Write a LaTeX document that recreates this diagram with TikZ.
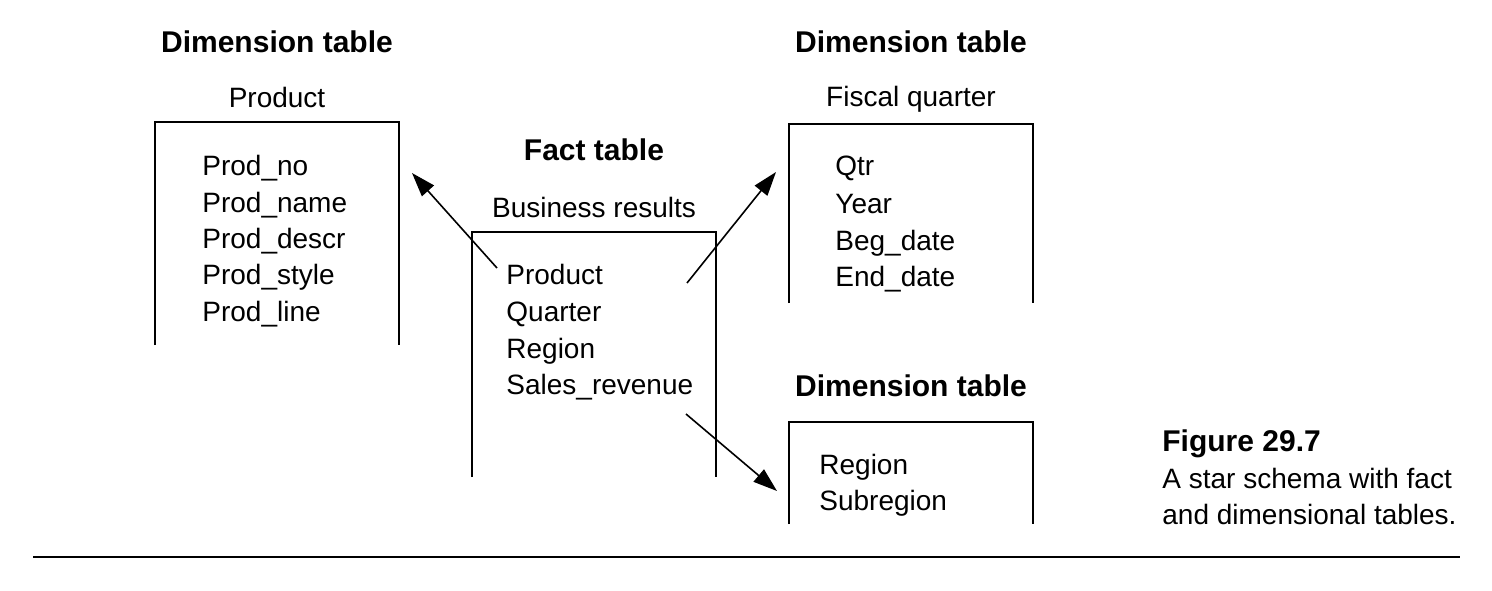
\documentclass[tikz,border=0pt]{standalone}
\usepackage{fontspec}
\setmainfont{Liberation Sans}
\usetikzlibrary{arrows.meta}
\tikzset{
  ttl/.style={font=\fontsize{15}{18}\selectfont\bfseries, anchor=center, inner sep=0pt},
  tname/.style={font=\fontsize{14}{17}\selectfont, anchor=center, inner sep=0pt},
  item/.style={font=\fontsize{14}{17}\selectfont, anchor=base west, inner sep=0pt},
  tbl/.style={line width=0.8pt},
  conn/.style={line width=0.8pt, -{Triangle[length=12pt,width=8pt]}},
}
\begin{document}
\begin{tikzpicture}[x=0.5pt,y=-0.5pt]
\useasboundingbox (0,0) rectangle (1492,590);
% Product dimension table
\node[ttl] (t1) at (277,42) {Dimension table};
\node[tname] (n1) at (277,97) {Product};
\draw[tbl] (155,345) -- (155,122) -- (399,122) -- (399,345);
\node[item] (p1) at (202,175) {Prod\_no};
\node[item] (p2) at (202,212) {Prod\_name};
\node[item] (p3) at (202,248) {Prod\_descr};
\node[item] (p4) at (202,284) {Prod\_style};
\node[item] (p5) at (202,321) {Prod\_line};
% Fact table
\node[ttl] (t2) at (594,150) {Fact table};
\node[tname] (n2) at (594,207) {Business results};
\draw[tbl] (472,477) -- (472,232) -- (716,232) -- (716,477);
\node[item] (f1) at (506,284) {Product};
\node[item] (f2) at (506,321) {Quarter};
\node[item] (f3) at (506,358) {Region};
\node[item] (f4) at (506,394) {Sales\_revenue};
% Fiscal quarter
\node[ttl] (t3) at (911,42) {Dimension table};
\node[tname] (n3) at (911,99) {Fiscal quarter};
\draw[tbl] (789,303) -- (789,124) -- (1033,124) -- (1033,303);
\node[item] (q1) at (835,175) {Qtr};
\node[item] (q2) at (835,213) {Year};
\node[item] (q3) at (835,250) {Beg\_date};
\node[item] (q4) at (835,286) {End\_date};
% Region
\node[ttl] (t4) at (911,386) {Dimension table};
\draw[tbl] (789,524) -- (789,422) -- (1033,422) -- (1033,524);
\node[item] (r1) at (819,474) {Region};
\node[item] (r2) at (819,510) {Subregion};
% Arrows
\coordinate (a1s) at (497,268);
\coordinate (a1e) at (412,173);
\coordinate (a2s) at (687,283);
\coordinate (a2e) at (776,172);
\coordinate (a3s) at (686,414);
\coordinate (a3e) at (777,491);
\draw[conn] (a1s) -- (a1e);
\draw[conn] (a2s) -- (a2e);
\draw[conn] (a3s) -- (a3e);
% Caption
\node[font=\fontsize{15}{18}\selectfont\bfseries, anchor=base west, inner sep=0pt] (cap1) at (1162,451) {Figure 29.7};
\node[item] (cap2) at (1162,488) {A star schema with fact};
\node[item] (cap3) at (1162,524) {and dimensional tables.};
\coordinate (r0) at (33,557);
\coordinate (r9) at (1460,557);
\draw[line width=0.8pt] (r0) -- (r9);
\end{tikzpicture}
\end{document}
